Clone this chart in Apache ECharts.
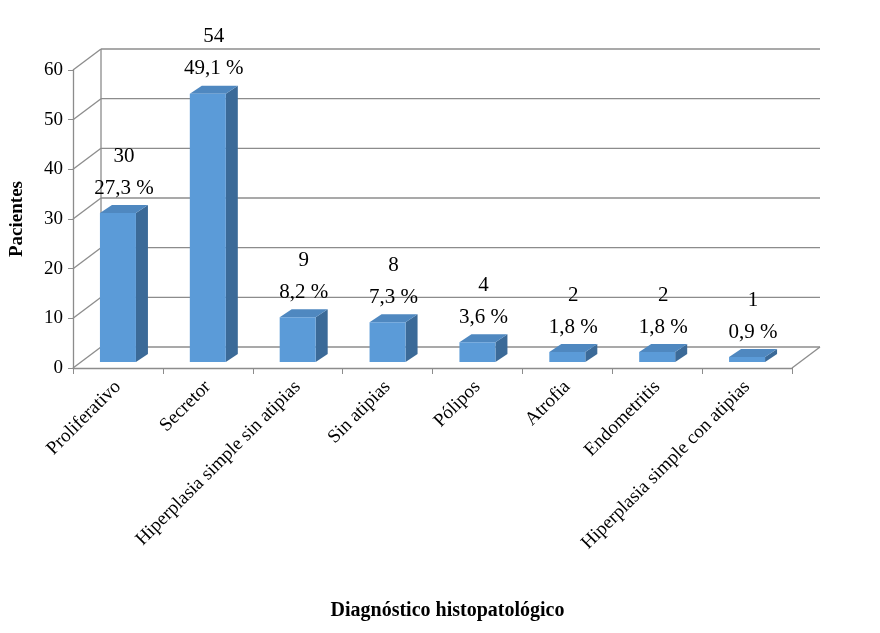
<!DOCTYPE html>
<html><head><meta charset="utf-8">
<script src="https://cdn.jsdelivr.net/npm/echarts@6/dist/echarts.min.js"></script>
<style>html,body{margin:0;background:#fff}#main{width:880px;height:633px}</style>
</head><body><div id="main"></div>
<script>
var categories = ['Proliferativo', 'Secretor', 'Hiperplasia simple sin atipias', 'Sin atipias', 'Pólipos', 'Atrofia', 'Endometritis', 'Hiperplasia simple con atipias'];
var pacientes = [30, 54, 9, 8, 4, 2, 2, 1];
var porcentajes = ['27,3 %', '49,1 %', '8,2 %', '7,3 %', '3,6 %', '1,8 %', '1,8 %', '0,9 %'];
var yTicks = [0, 10, 20, 30, 40, 50, 60];

var FONT = '"Liberation Serif", "DejaVu Serif", serif';
var DX = 28, DY = -21;      // wall depth
var BDX = 12, BDY = -8;     // bar depth
var BW = 36;
var LIFT = 6;

var dom = document.getElementById('main');
var myChart = echarts.init(dom);

function wall(params, api) {
  var cs = params.coordSys;
  var p = api.coord([0, api.value(0)]);
  var y = p[1];
  var x0 = cs.x, x1 = cs.x + cs.width;
  var st = {stroke: '#8c8c8c', lineWidth: 1.3};
  var ch = [
    {type: 'line', shape: {x1: x0, y1: y, x2: x0 + DX, y2: y + DY}, style: st},
    {type: 'line', shape: {x1: x0 + DX, y1: y + DY, x2: x1 + DX, y2: y + DY}, style: st}
  ];
  if (params.dataIndex === 0) {
    var top = api.coord([0, 60])[1];
    ch.push({type: 'line', shape: {x1: x0 + DX, y1: y + DY, x2: x0 + DX, y2: top + DY}, style: st});
    ch.push({type: 'line', shape: {x1: x1, y1: y, x2: x1 + DX, y2: y + DY}, style: st});
  }
  return {type: 'group', children: ch};
}

function bar(params, api) {
  var c = api.coord([api.value(0), api.value(1)]);
  var b = api.coord([api.value(0), 0]);
  var l = c[0] - BW / 2, r = c[0] + BW / 2, t = c[1] - LIFT, y0 = b[1] - LIFT;
  var i = params.dataIndex;
  return {type: 'group', children: [
    {type: 'polygon', shape: {points: [[r, y0], [r + BDX, y0 + BDY], [r + BDX, t + BDY], [r, t]]}, style: {fill: '#3b6a98'}},
    {type: 'polygon', shape: {points: [[l, t], [l + BDX, t + BDY], [r + BDX, t + BDY], [r, t]]}, style: {fill: '#4f88c0'}},
    {type: 'rect', shape: {x: l, y: t, width: BW, height: y0 - t}, style: {fill: '#5b9bd8'}},
    {type: 'text', x: c[0] + 6, y: t - 57, style: {text: String(pacientes[i]), font: '21px ' + FONT, fill: '#000', align: 'center', verticalAlign: 'middle'}},
    {type: 'text', x: c[0] + 6, y: t - 25, style: {text: porcentajes[i], font: '21px ' + FONT, fill: '#000', align: 'center', verticalAlign: 'middle'}}
  ]};
}

var option = {
  animation: false,
  grid: {left: 68, right: 88, top: 70, bottom: 265},
  xAxis: {
    type: 'category', data: categories,
    name: 'Diagnóstico histopatológico', nameLocation: 'middle', nameGap: 233,
    nameTextStyle: {fontFamily: FONT, fontWeight: 'bold', fontSize: 20, color: '#000', padding: [0, 0, 0, 30]},
    axisLine: {lineStyle: {color: '#8c8c8c', width: 1.3}},
    axisTick: {show: true, length: 6, lineStyle: {color: '#8c8c8c'}},
    axisLabel: {rotate: 45, fontFamily: FONT, fontSize: 19, color: '#000', margin: 16, interval: 0}
  },
  yAxis: {
    type: 'value', min: 0, max: 60, interval: 10,
    name: 'Pacientes', nameLocation: 'middle', nameGap: 46,
    nameTextStyle: {fontFamily: FONT, fontWeight: 'bold', fontSize: 19, color: '#000'},
    axisLine: {show: true, lineStyle: {color: '#8c8c8c', width: 1.3}},
    axisTick: {show: true, length: 5, lineStyle: {color: '#8c8c8c'}},
    splitLine: {show: false},
    axisLabel: {fontFamily: FONT, fontSize: 19, color: '#000', margin: 10}
  },
  series: [
    {type: 'custom', renderItem: wall, data: yTicks.map(function (v) { return [v]; }), silent: true, z: 1},
    {type: 'custom', renderItem: bar, data: categories.map(function (c, i) { return [i, pacientes[i]]; }), z: 5}
  ]
};
myChart.setOption(option, true);
</script>
</body></html>
